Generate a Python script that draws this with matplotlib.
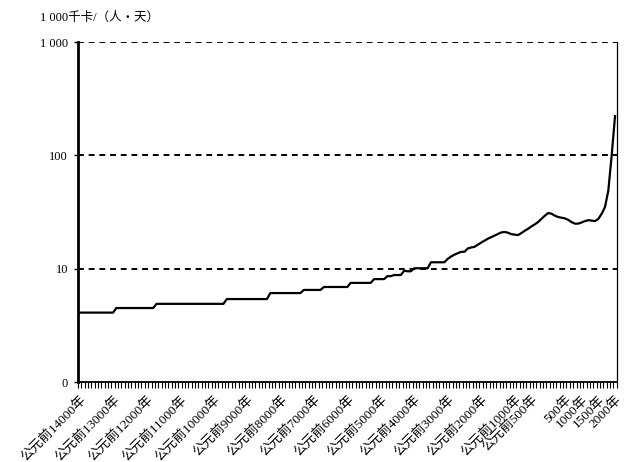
import numpy as np
import matplotlib.pyplot as plt

plt.rcParams['font.family'] = ['Liberation Serif', 'Noto Sans CJK SC', 'DejaVu Sans']

# one value per century, 14000 BC .. 2000 AD, in 1000 kcal per person per day
years = list(range(-14000, 2001, 100))
energy = [
    4.1, 4.1, 4.1, 4.1, 4.1, 4.1, 4.1, 4.1, 4.1, 4.1,
    4.1, 4.5, 4.5, 4.5, 4.5, 4.5, 4.5, 4.5, 4.5, 4.5,
    4.5, 4.5, 4.5, 4.9, 4.9, 4.9, 4.9, 4.9, 4.9, 4.9,
    4.9, 4.9, 4.9, 4.9, 4.9, 4.9, 4.9, 4.9, 4.9, 4.9,
    4.9, 4.9, 4.9, 4.9, 5.4, 5.4, 5.4, 5.4, 5.4, 5.4,
    5.4, 5.4, 5.4, 5.4, 5.4, 5.4, 5.4, 6.1, 6.1, 6.1,
    6.1, 6.1, 6.1, 6.1, 6.1, 6.1, 6.1, 6.5, 6.5, 6.5,
    6.5, 6.5, 6.5, 6.9, 6.9, 6.9, 6.9, 6.9, 6.9, 6.9,
    6.9, 7.5, 7.5, 7.5, 7.5, 7.5, 7.5, 7.5, 8.1, 8.1,
    8.1, 8.1, 8.6, 8.6, 8.8, 8.8, 8.8, 9.6, 9.5, 9.5,
    10.1, 10.1, 10.1, 10.1, 10.1, 11.4, 11.4, 11.4, 11.4, 11.4,
    12.2, 12.8, 13.3, 13.7, 14.1, 14.1, 15.1, 15.4, 15.6, 16.3,
    17.0, 17.7, 18.4, 19.0, 19.6, 20.3, 20.9, 21.1, 20.8, 20.2,
    20.0, 19.8, 20.6, 21.6, 22.5, 23.6, 24.6, 25.8, 27.5, 29.3,
    31.0, 30.6, 29.4, 28.6, 28.2, 27.8, 27.0, 25.8, 25.0, 25.0,
    25.6, 26.3, 26.8, 26.6, 26.3, 27.5, 30.5, 35.0, 49.0, 100.0,
    222.0,
]

label_years = [-14000, -13000, -12000, -11000, -10000, -9000, -8000, -7000,
               -6000, -5000, -4000, -3000, -2000, -1000, -500, 500, 1000, 1500, 2000]
label_texts = ['公元前14000年', '公元前13000年', '公元前12000年', '公元前11000年',
               '公元前10000年', '公元前9000年', '公元前8000年', '公元前7000年',
               '公元前6000年', '公元前5000年', '公元前4000年', '公元前3000年',
               '公元前2000年', '公元前1000年', '公元前500年', '500年', '1000年',
               '1500年', '2000年']

y_ticks = [1, 10, 100, 1000]
y_labels = ['0', '10', '100', '1 000']

x = np.arange(len(years))

fig = plt.figure(figsize=(6.28, 4.62), dpi=100)
ax = fig.add_axes([0.124, 0.173, 0.858, 0.736])

ax.plot(x, energy, color='black', lw=1.6)

ax.set_yscale('log')
ax.set_ylim(1, 1000)
ax.set_xlim(-0.5, len(years) - 0.5)
ax.set_yticks(y_ticks)
ax.set_yticklabels(y_labels, fontsize=9)
ax.yaxis.set_minor_locator(plt.NullLocator())
ax.tick_params(axis='y', length=3, width=1, pad=4)

for v in y_ticks[1:]:
    ax.axhline(v, color='black', lw=1.4, ls=(0, (3, 2.5)), zorder=1)

# labels at chosen categories, tick marks between every category
ax.set_xticks([years.index(yr) for yr in label_years])
ax.set_xticklabels(label_texts, rotation=45, ha='right', rotation_mode='anchor', fontsize=9.5)
ax.tick_params(axis='x', which='major', length=0, pad=8)
ax.set_xticks(np.arange(len(years) + 1) - 0.5, minor=True)
ax.tick_params(axis='x', which='minor', length=4, width=0.8, direction='out')

ax.spines['top'].set_visible(False)
ax.spines['left'].set_linewidth(2)
ax.spines['bottom'].set_linewidth(1.3)
ax.spines['right'].set_linewidth(0.9)

fig.text(0.064, 0.955, '1 000千卡/（人・天）', fontsize=9)

plt.savefig('out.png', dpi=100)
